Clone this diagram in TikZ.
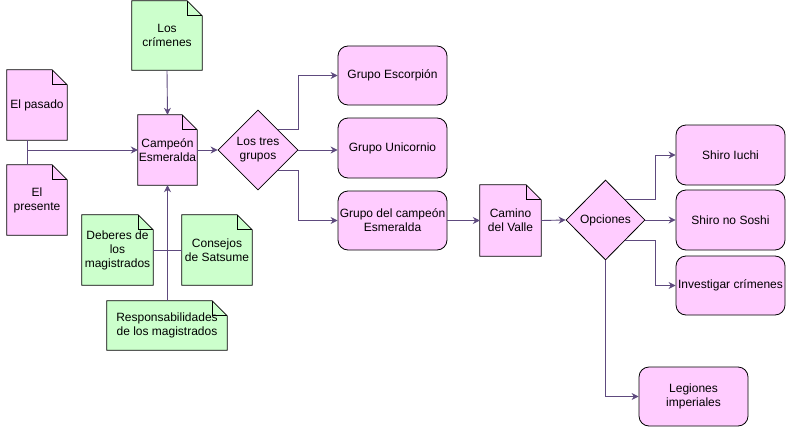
\documentclass[tikz,border=0pt]{standalone}
\usepackage{fontspec}
\setmainfont{Liberation Sans}
\usetikzlibrary{shapes.geometric,arrows.meta,backgrounds}
\definecolor{pinkf}{HTML}{FFCCFF}
\definecolor{greenf}{HTML}{CCFFCC}
\definecolor{edgec}{HTML}{5E4A7E}
\tikzset{
  lbl/.style={font=\fontsize{12}{14}\selectfont, align=center, inner sep=0pt},
  rbox/.style={lbl, draw=black, fill=pinkf, rounded corners=10pt, minimum width=109pt, minimum height=59pt, line width=0.8pt},
  dia/.style={lbl, draw=black, fill=pinkf, diamond, minimum width=80pt, minimum height=80pt, line width=0.8pt},
  arr/.style={draw=edgec, line width=0.9pt, -{Stealth[length=7pt,width=7pt]}},
  ln/.style={draw=edgec, line width=0.9pt},
}
% name, x, y, w, h, fill, text
\newcommand{\docnode}[7]{%
  \node[lbl, minimum width=#4pt, minimum height=#5pt] (#1) at (#2,#3) {#7};
  \begin{pgfonlayer}{background}
    \filldraw[fill=#6, draw=black, line width=0.8pt] (#1.south west) -- (#1.north west) -- ([xshift=-15pt]#1.north east) -- ([yshift=-15pt]#1.north east) -- (#1.south east) -- cycle;
    \draw[line width=0.8pt] ([xshift=-15pt]#1.north east) -- ([xshift=-15pt,yshift=-15pt]#1.north east) -- ([yshift=-15pt]#1.north east);
  \end{pgfonlayer}}
\begin{document}
\begin{tikzpicture}[x=1pt,y=-1pt]
\begin{pgfonlayer}{background}
  \fill[white] (0,0) rectangle (786,428);
\end{pgfonlayer}
\useasboundingbox (0,0) rectangle (786,428);

\docnode{pasado}{37}{105}{60}{70}{pinkf}{El pasado}
\docnode{presente}{37}{200}{60}{70}{pinkf}{El\\presente}
\docnode{crimenes}{167}{35.5}{70}{69}{greenf}{Los\\crímenes}
\docnode{campeon}{167.5}{150}{59}{70}{pinkf}{Campeón\\Esmeralda}
\docnode{deberes}{117.5}{250}{71}{70}{greenf}{Deberes de\\los\\magistrados}
\docnode{consejos}{217}{250}{70}{70}{greenf}{Consejos\\de Satsume}
\docnode{resp}{167}{325.5}{120}{49}{greenf}{Responsabilidades\\de los magistrados}
\docnode{camino}{510.5}{220.5}{61}{71}{pinkf}{Camino\\del Valle}

\node[dia] (tres) at (258,150) {Los tres\\grupos};
\node[dia, minimum width=79pt] (opciones) at (605.5,220) {Opciones};

\node[rbox] (escorpion) at (392.5,75.5) {Grupo Escorpión};
\node[rbox, minimum height=60pt] (unicornio) at (392.5,148) {Grupo Unicornio};
\node[rbox] (gcampeon) at (392.5,220.5) {Grupo del campeón\\Esmeralda};
\node[rbox, minimum height=60pt] (iuchi) at (730.5,155) {Shiro Iuchi};
\node[rbox, minimum height=60pt] (soshi) at (730.5,220) {Shiro no Soshi};
\node[rbox] (investigar) at (730.5,285.5) {Investigar crímenes};
\node[rbox] (legiones) at (693.5,396.5) {Legiones\\imperiales};

\coordinate (j) at (27,150);
\draw[ln] (j |- pasado.south) -- (j |- presente.north);
\draw[arr] (j) -- (campeon.west);
\draw[arr] (crimenes.south) -- (campeon.north);
\draw[arr] (resp.north -| campeon.south) -- (campeon.south);
\draw[ln] (deberes.east) -- (consejos.west);
\draw[arr] (campeon.east) -- (tres.west);
\draw[arr] (tres.north east) -- ++(20,0) |- (escorpion.west);
\draw[arr] (tres.east) -- (tres.east -| unicornio.west);
\draw[arr] (tres.south east) -- ++(20,0) |- (gcampeon.west);
\draw[arr] (gcampeon.east) -- (camino.west);
\draw[arr] (camino.east) -- (opciones.west);
\draw[arr] (opciones.north east) -- ++(30,0) |- (iuchi.west);
\draw[arr] (opciones.east) -- (soshi.west);
\draw[arr] (opciones.south east) -- ++(30,0) |- (investigar.west);
\draw[arr] (opciones.south) |- (legiones.west);
\end{tikzpicture}
\end{document}
